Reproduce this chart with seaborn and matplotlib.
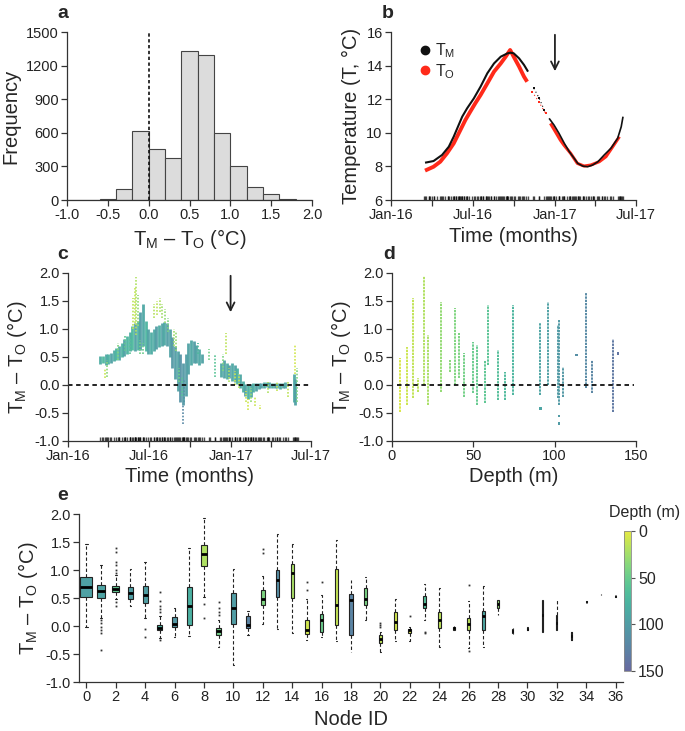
import matplotlib
matplotlib.use('Agg')
import matplotlib.pyplot as plt
import seaborn as sns
import numpy as np
from matplotlib.colors import ListedColormap, Normalize
from matplotlib.lines import Line2D
import matplotlib.cm as cm

# ---------------- data ----------------
# a: histogram of TM - TO
hist_edges = [-1.0, -0.8, -0.6, -0.4, -0.2, 0.0, 0.2, 0.4, 0.6, 0.8, 1.0, 1.2, 1.4, 1.6, 1.8, 2.0]
hist_counts = [0, 2, 5, 95, 615, 458, 378, 1330, 1295, 600, 308, 112, 52, 10, 2]

# b: temperatures (days since 1 Jan 2016)
tm_day = [76, 95, 114, 129, 140, 151, 159, 170, 185, 200, 215, 230, 245, 260, 267, 274, 286, 297, 306,
          319, 331, 342, 353, 364, 375, 387, 398, 409, 417, 428, 439, 450, 462, 476, 491, 506, 514, 518]
tm_val = [8.22, 8.32, 8.68, 9.17, 9.77, 10.46, 10.96, 11.46, 12.05, 12.75, 13.54, 14.13, 14.53, 14.73, 14.77,
          14.73, 14.43, 14.04, 13.64, 12.65, 12.05, 11.36, 10.86, 10.46, 9.97, 9.37, 8.88, 8.48, 8.18, 8.02,
          7.98, 8.08, 8.28, 8.68, 9.08, 9.67, 10.36, 10.96]
to_day = [76, 95, 110, 125, 140, 155, 166, 177, 188, 200, 215, 230, 245, 256, 266, 274, 286, 297, 304,
          315, 330, 345, 356, 367, 378, 386, 401, 416, 431, 446, 465, 480, 495, 510]
to_val = [7.75, 7.98, 8.28, 8.78, 9.37, 10.17, 10.76, 11.26, 11.75, 12.25, 12.94, 13.64, 14.13, 14.53, 14.93,
          14.53, 13.94, 13.34, 13.04, 12.45, 11.85, 11.16, 10.56, 10.07, 9.57, 9.27, 8.78, 8.18, 8.02, 8.08,
          8.28, 8.58, 9.17, 9.77]
sparse_window = (306, 348)

# c: TM - TO through time, main band (lo/hi per date) and colour depth
c_day = [73, 79, 85, 91, 97, 103, 109, 115, 121, 127, 133, 139, 145, 151, 157, 163, 169, 175, 181, 187,
         193, 199, 205, 211, 217, 223, 229, 235, 241, 247, 253, 259, 265, 271, 277, 283, 289, 295, 301,
         345, 351, 357, 363, 369, 375, 381, 387, 393, 399, 405, 411, 417, 423, 429, 435, 441, 447, 453,
         459, 465, 471, 477, 483, 489, 509, 512]
c_lo = [0.38, 0.40, 0.35, 0.38, 0.40, 0.42, 0.45, 0.45, 0.50, 0.52, 0.55, 0.60, 0.62, 0.60, 0.62, 0.62,
        0.70, 0.60, 0.55, 0.55, 0.60, 0.65, 0.68, 0.70, 0.72, 0.70, 0.50, 0.30, 0.10, -0.10, -0.30, -0.35,
        -0.20, 0.20, 0.35, 0.40, 0.40, 0.35, 0.40,
        0.15, 0.12, 0.10, 0.12, 0.08, 0.05, 0.02, -0.05, -0.12, -0.20, -0.25, -0.22, -0.12, -0.10, -0.08,
        -0.06, -0.05, -0.04, -0.05, -0.06, -0.05, -0.06, -0.08, -0.06, -0.05, -0.30, -0.35]
c_hi = [0.52, 0.52, 0.55, 0.56, 0.58, 0.62, 0.66, 0.70, 0.75, 0.82, 0.88, 0.95, 1.05, 1.10, 1.15, 1.30,
        1.45, 1.15, 1.00, 0.95, 1.00, 1.05, 1.08, 1.10, 1.12, 1.10, 1.00, 0.85, 0.70, 0.60, 0.55, 0.40,
        0.55, 0.75, 0.80, 0.78, 0.72, 0.65, 0.55,
        0.40, 0.45, 0.40, 0.35, 0.40, 0.35, 0.30, 0.20, 0.08, 0.02, 0.00, 0.02, 0.03, 0.03, 0.04,
        0.04, 0.05, 0.06, 0.05, 0.04, 0.04, 0.04, 0.04, 0.04, 0.05, 0.20, 0.10]
c_depth = [85, 70, 90, 80, 95, 85, 75, 90, 80, 95, 75, 85, 70, 95, 80, 100, 90, 75, 95, 85,
           90, 100, 85, 95, 90, 100, 95, 105, 100, 95, 110, 105, 100, 95, 90, 100, 95, 90, 95,
           90, 95, 85, 100, 90, 95, 80, 90, 85, 95, 80, 90, 85, 95, 90, 100, 85, 90, 95,
           85, 100, 90, 85, 95, 90, 90, 95]
# c: shallower / scattered streaks
s_day = [84, 88, 112, 128, 140, 146, 150, 154, 158, 162, 168, 194, 200, 206, 212, 218, 224, 238, 244, 250,
         256, 262, 258, 292, 318, 330, 348, 356, 362, 375, 384, 400, 406, 412, 420, 432, 450, 470, 495,
         512, 515]
s_lo = [0.12, 0.15, 0.45, 0.60, 0.55, 1.00, 1.10, 0.90, 1.05, 0.55, 0.55, 1.20, 1.25, 1.30, 1.20, 1.10,
        0.95, 0.70, 0.60, 0.05, -0.20, -0.30, -0.70, 0.55, 0.45, 0.15, 0.25, 0.55, 0.05, 0.00, -0.05,
        -0.30, -0.45, -0.30, -0.38, -0.42, -0.15, -0.10, -0.22, 0.20, -0.30]
s_hi = [0.30, 0.45, 0.75, 0.90, 0.85, 1.55, 1.75, 1.92, 1.60, 0.80, 0.75, 1.45, 1.50, 1.55, 1.45, 1.35,
        1.20, 1.00, 0.95, 0.30, 0.15, 0.10, -0.35, 0.75, 0.65, 0.55, 0.55, 0.92, 0.30, 0.25, 0.20,
        -0.10, -0.25, -0.05, -0.20, -0.35, 0.05, 0.06, 0.05, 0.72, 0.30]
s_depth = [10, 35, 40, 55, 60, 15, 12, 20, 30, 45, 50, 18, 15, 20, 25, 30, 40, 25, 30, 45,
           60, 105, 120, 70, 45, 60, 40, 15, 20, 10, 15, 10, 8, 30, 10, 8, 20, 12, 15, 8, 40]

# d: TM - TO by node depth (range of each vertical streak)
d_depth = [5.1, 9.2, 12.9, 15.8, 19.5, 22.1, 30.1, 35.5, 39.0, 41.0, 44.1, 49.6, 52.3, 57.0, 58.8,
           65.0, 69.7, 74.4, 91.2, 95.9, 102.0, 102.9, 105.0, 119.1, 123.2, 135.9]
d_lo = [-0.48, -0.36, -0.24, -0.12, 0.00, -0.36, -0.12, 0.24, 0.00, 0.12, -0.21, -0.15, -0.36, -0.33, 0.36,
        -0.27, -0.27, -0.18, -0.18, 0.00, -0.24, -0.36, -0.21, -0.06, -0.15, -0.48]
d_hi = [0.48, 0.68, 1.55, 0.12, 1.95, 0.89, 1.48, 0.45, 1.37, 0.92, 0.57, 0.77, 0.71, 0.45, 1.43,
        0.62, 0.24, 1.43, 1.10, 1.49, 1.07, 1.16, 0.33, 1.64, 0.45, 0.83]
d_pt_depth = [91.2, 102.5, 102.5, 113.4, 139.0]
d_pt_val = [-0.42, -0.55, -0.69, 0.54, 0.56]

# e: box statistics per node
node_id = list(range(37))
node_depth = [95, 92, 55, 98, 98, 75, 105, 80, 20, 45, 100, 125, 40, 115, 22, 8, 50, 12, 125, 42,
              15, 8, 5, 65, 15, 5, 15, 90, 30, 60, 60, 60, 60, 60, 60, 60, 60]
box_q1 = [0.51, 0.50, 0.60, 0.49, 0.41, -0.07, -0.02, 0.01, 1.08, -0.16, 0.03, -0.04, 0.38, 0.52, 0.50,
          -0.14, -0.10, 0.01, -0.16, 0.38, -0.30, -0.08, -0.12, 0.32, -0.04, -0.07, -0.08, -0.08, 0.32,
          -0.13, -0.08, -0.10, -0.07, -0.25, 0.42, 0.55, 0.52]
box_med = [0.69, 0.62, 0.66, 0.59, 0.56, -0.03, 0.03, 0.35, 1.29, -0.09, 0.32, 0.01, 0.48, 0.83, 0.94,
           -0.07, 0.10, 0.38, 0.46, 0.48, -0.23, 0.07, -0.08, 0.39, 0.11, -0.04, 0.04, 0.17, 0.40,
           -0.09, -0.05, 0.20, 0.05, -0.17, 0.43, 0.56, 0.53]
box_q3 = [0.88, 0.73, 0.72, 0.69, 0.72, 0.01, 0.16, 0.69, 1.45, -0.04, 0.59, 0.18, 0.65, 1.00, 1.11,
          0.10, 0.21, 1.02, 0.57, 0.68, -0.16, 0.25, -0.05, 0.53, 0.25, -0.01, 0.14, 0.26, 0.47,
          -0.06, -0.03, 0.46, 0.20, -0.10, 0.44, 0.57, 0.54]
box_lo = [-0.01, 0.14, 0.48, 0.36, 0.14, -0.22, -0.19, -0.18, 0.52, -0.37, -0.70, -0.16, 0.04, -0.05, -0.12,
          -0.25, -0.20, -0.27, -0.47, 0.11, -0.47, -0.27, -0.27, 0.11, -0.38, -0.08, -0.40, -0.37, 0.20,
          -0.14, -0.08, -0.10, -0.07, -0.25, 0.42, 0.55, 0.52]
box_hi = [1.46, 1.09, 0.91, 1.02, 1.15, 0.17, 0.32, 1.40, 1.92, 0.11, 1.02, 0.26, 0.90, 1.64, 1.46,
          0.48, 0.56, 1.53, 0.83, 0.88, -0.10, 0.49, -0.01, 0.75, 0.68, 0.00, 0.44, 0.71, 0.47,
          -0.04, -0.01, 0.46, 0.47, -0.10, 0.44, 0.57, 0.54]
box_fliers = [[], [0.10, 0.05, -0.02, -0.08, -0.13, -0.43], [1.40, 1.33, 1.15, 1.09, 1.00, 0.95, 0.42, 0.36],
              [], [-0.05, -0.20], [0.60, 0.45, 0.35, 0.30, 0.25, -0.25], [], [], [0.40, 0.15],
              [0.42, 0.33, 0.25, 0.20], [], [], [1.38, 1.30], [], [], [0.78, 0.65], [0.78], [], [], [],
              [0.05, 0.02, -0.02], [], [0.18], [-0.10, -0.13], [], [], [0.73, -0.45], [], [],
              [], [], [], [], [], [], [], []]
box_width = [0.8, 0.6, 0.45, 0.35, 0.35, 0.35, 0.35, 0.35, 0.35, 0.3, 0.36, 0.27, 0.27, 0.27, 0.22,
             0.22, 0.22, 0.22, 0.22, 0.22, 0.22, 0.2, 0.18, 0.18, 0.18, 0.12, 0.18, 0.18, 0.12,
             0.08, 0.08, 0.08, 0.08, 0.08, 0.05, 0.05, 0.05]

# ---------------- style ----------------
sns.set_style('ticks')
plt.rcParams['font.family'] = ['Liberation Sans', 'DejaVu Sans']
plt.rcParams['axes.unicode_minus'] = False
plt.rcParams['mathtext.fontset'] = 'custom'
plt.rcParams['mathtext.rm'] = 'Liberation Sans'

W, H = 685, 731
TMTO = 'T$_\\mathregular{M}$ \u2013 T$_\\mathregular{O}$ (°C)'
AX_COL = '#333333'

base = plt.cm.viridis(np.linspace(0.2, 0.95, 256))[::-1, :3]
depth_cmap = ListedColormap(0.8 * base + 0.2)
depth_norm = Normalize(0, 150)


def rect(x0, y0, x1, y1):
    return [x0 / W, 1 - y1 / H, (x1 - x0) / W, (y1 - y0) / H]


def style(ax):
    sns.despine(ax=ax)
    for s in ['left', 'bottom']:
        ax.spines[s].set_color(AX_COL)
        ax.spines[s].set_linewidth(0.9)
    ax.tick_params(direction='out', length=4, width=0.9, color=AX_COL, labelsize=10.5, pad=2,
                   labelcolor='#222222')


def dcol(d):
    return depth_cmap(depth_norm(d))


fig = plt.figure(figsize=(W / 100, H / 100), dpi=100)

time_ticks = [0, 91, 182, 274, 366, 456, 547]
time_labels = ['Jan-16', '', 'Jul-16', '', 'Jan-17', '', 'Jul-17']
rug_days = c_day + s_day + tm_day

# ---- a ----
ax1 = fig.add_axes(rect(67, 32, 312, 200))
centers = [(hist_edges[i] + hist_edges[i + 1]) / 2 for i in range(len(hist_counts))]
sns.histplot(x=centers, weights=hist_counts, bins=hist_edges, ax=ax1, color='#dcdcdc',
             edgecolor='#444444', linewidth=0.8, alpha=1)
ax1.plot([0, 0], [0, 1500], color='#111111', ls=(0, (2, 1.5)), lw=1.2)
ax1.set_xlim(-1, 2)
ax1.set_ylim(0, 1500)
ax1.set_xticks([-1.0, -0.5, 0.0, 0.5, 1.0, 1.5, 2.0])
ax1.set_xticklabels(['-1.0', '-0.5', '0.0', '0.5', '1.0', '1.5', '2.0'])
ax1.set_yticks([0, 300, 600, 900, 1200, 1500])
ax1.set_ylabel('Frequency', fontsize=14.5)
ax1.set_xlabel(TMTO, fontsize=14.5, labelpad=3)
style(ax1)

# ---- b ----
ax2 = fig.add_axes(rect(391, 32, 636, 200))
for days, vals, col, lw in [(to_day, to_val, '#ff2a1a', 2.8), (tm_day, tm_val, '#111111', 1.5)]:
    days = np.array(days)
    vals = np.array(vals)
    early = days <= sparse_window[0]
    late = days >= sparse_window[1]
    mid = ~early & ~late
    ax2.plot(days[early], vals[early], color=col, lw=lw, solid_capstyle='butt')
    ax2.plot(days[late], vals[late], color=col, lw=lw * 0.8, solid_capstyle='butt')
    sns.scatterplot(x=days[mid], y=vals[mid], ax=ax2, color=col, s=4, marker='s', linewidth=0)
    ax2.plot(days[mid], vals[mid], color=col, lw=0.8, ls=(0, (1, 2.5)))
sns.rugplot(x=rug_days, ax=ax2, height=0.022, color='black', lw=0.6, alpha=0.7)
ax2.annotate('', xy=(366, 13.5), xytext=(366, 16.0),
             arrowprops=dict(arrowstyle='->', color='#222222', lw=1.3, mutation_scale=14))
ax2.set_xlim(0, 547)
ax2.set_ylim(6, 16)
ax2.set_xticks(time_ticks)
ax2.set_xticklabels(time_labels)
ax2.set_yticks([6, 8, 10, 12, 14, 16])
ax2.set_ylabel('Temperature (T, °C)', fontsize=14.5)
ax2.set_xlabel('Time (months)', fontsize=14.5, labelpad=3)
handles = [Line2D([], [], ls='', marker='o', ms=6, color='#111111'),
           Line2D([], [], ls='', marker='o', ms=6, color='#ff2a1a')]
ax2.legend(handles, ['T$_\\mathregular{M}$', 'T$_\\mathregular{O}$'], loc='upper left',
           bbox_to_anchor=(0.08, 0.98), frameon=False, handletextpad=0.1, labelspacing=0.1,
           fontsize=11.5, handlelength=1.0, borderaxespad=0)
style(ax2)

# ---- c ----
ax3 = fig.add_axes(rect(68, 273, 311, 441))
ax3.vlines(c_day, c_lo, c_hi, colors=[dcol(d) for d in c_depth], lw=2.0, alpha=0.95)
ax3.vlines(s_day, s_lo, s_hi, colors=[dcol(d) for d in s_depth], lw=1.2, linestyles=(0, (1, 1)))
sns.rugplot(x=rug_days, ax=ax3, height=0.022, color='black', lw=0.6, alpha=0.7)
ax3.axhline(0, color='#111111', ls=(0, (2.5, 2)), lw=1.3)
ax3.annotate('', xy=(366, 1.25), xytext=(366, 2.0),
             arrowprops=dict(arrowstyle='->', color='#222222', lw=1.3, mutation_scale=14))
ax3.set_xlim(0, 547)
ax3.set_ylim(-1, 2)
ax3.set_xticks(time_ticks)
ax3.set_xticklabels(time_labels)
ax3.set_yticks([-1.0, -0.5, 0.0, 0.5, 1.0, 1.5, 2.0])
ax3.set_yticklabels(['-1.0', '-0.5', '0.0', '0.5', '1.0', '1.5', '2.0'])
ax3.set_ylabel(TMTO, fontsize=14.5)
ax3.set_xlabel('Time (months)', fontsize=14.5, labelpad=3)
style(ax3)

# ---- d ----
ax4 = fig.add_axes(rect(392, 273, 636, 441))
ax4.vlines(d_depth, d_lo, d_hi, colors=[dcol(d) for d in d_depth], lw=1.4, linestyles=(0, (1.2, 0.5)))
sns.scatterplot(x=d_pt_depth, y=d_pt_val, ax=ax4, s=3, marker='s', linewidth=0,
                color=[dcol(d) for d in d_pt_depth])
ax4.axhline(0, xmin=0.02, xmax=0.99, color='#111111', ls=(0, (2.5, 2)), lw=1.3)
ax4.set_xlim(0, 150)
ax4.set_ylim(-1, 2)
ax4.set_xticks([0, 50, 100, 150])
ax4.set_yticks([-1.0, -0.5, 0.0, 0.5, 1.0, 1.5, 2.0])
ax4.set_yticklabels(['-1.0', '-0.5', '0.0', '0.5', '1.0', '1.5', '2.0'])
ax4.set_ylabel(TMTO, fontsize=14.5)
ax4.set_xlabel('Depth (m)', fontsize=14.5, labelpad=3)
style(ax4)

# ---- e ----
ax5 = fig.add_axes(rect(79, 514, 623, 682))
stats = []
for i in range(len(node_id)):
    stats.append(dict(med=box_med[i], q1=box_q1[i], q3=box_q3[i], whislo=box_lo[i],
                      whishi=box_hi[i], fliers=box_fliers[i]))
bp = ax5.bxp(stats, positions=node_id, widths=box_width, patch_artist=True, showfliers=True,
             capwidths=[w * 0.3 for w in box_width],
             boxprops=dict(edgecolor='#222222', linewidth=0.8),
             medianprops=dict(color='black', linewidth=2),
             whiskerprops=dict(color='#222222', linewidth=0.8, linestyle=(0, (3, 2))),
             capprops=dict(color='#222222', linewidth=0.8),
             flierprops=dict(marker='s', markersize=1.3, markerfacecolor='#333333',
                             markeredgecolor='none'))
for patch, d in zip(bp['boxes'], node_depth):
    patch.set_facecolor(dcol(d))
ax5.set_xlim(-0.5, 36.5)
ax5.set_ylim(-1, 2)
ax5.set_xticks(list(range(0, 37, 2)))
ax5.set_xticklabels([str(n) for n in range(0, 37, 2)])
ax5.set_yticks([-1.0, -0.5, 0.0, 0.5, 1.0, 1.5, 2.0])
ax5.set_yticklabels(['-1.0', '-0.5', '0.0', '0.5', '1.0', '1.5', '2.0'])
ax5.set_ylabel(TMTO, fontsize=14.5)
ax5.set_xlabel('Node ID', fontsize=14.5, labelpad=4)
style(ax5)

# colourbar
cax = fig.add_axes(rect(624, 531, 631, 671))
cb = fig.colorbar(cm.ScalarMappable(norm=depth_norm, cmap=depth_cmap), cax=cax)
cax.invert_yaxis()
cb.set_ticks([0, 50, 100, 150])
cb.outline.set_edgecolor('#888888')
cb.outline.set_linewidth(0.6)
cax.tick_params(length=3, width=0.8, color='#555555', labelsize=11.5, pad=2)
fig.text(645 / W, 1 - 513 / H, 'Depth (m)', fontsize=11.5, ha='center', va='center')

# panel letters
for lab, x, y in [('a', 63, 13), ('b', 388, 13), ('c', 63, 255), ('d', 389, 255), ('e', 63, 495)]:
    fig.text(x / W, 1 - y / H, lab, fontsize=14, fontweight='bold', ha='center', va='center')

fig.savefig('out.png', dpi=100)
